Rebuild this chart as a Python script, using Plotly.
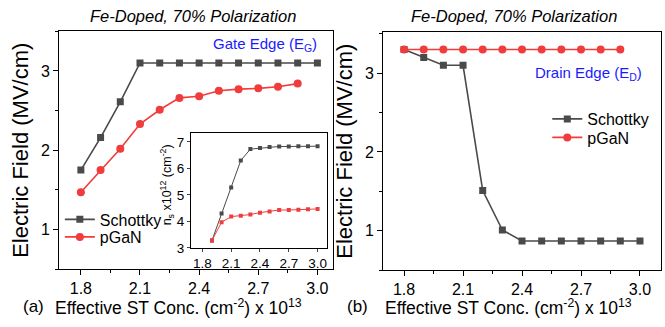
import plotly.graph_objects as go

# ---- data ----
x_a_sch = [1.8, 1.9, 2.0, 2.1, 2.2, 2.3, 2.4, 2.5, 2.6, 2.7, 2.8, 2.9, 3.0]
y_a_sch = [1.75, 2.16, 2.61, 3.10, 3.10, 3.10, 3.10, 3.10, 3.10, 3.10, 3.10, 3.10, 3.10]
x_a_pgan = [1.8, 1.9, 2.0, 2.1, 2.2, 2.3, 2.4, 2.5, 2.6, 2.7, 2.8, 2.9]
y_a_pgan = [1.47, 1.75, 2.02, 2.33, 2.51, 2.66, 2.68, 2.75, 2.77, 2.78, 2.80, 2.84]

x_in = [1.9, 2.0, 2.1, 2.2, 2.3, 2.4, 2.5, 2.6, 2.7, 2.8, 2.9, 3.0]
ns_sch = [3.28, 4.30, 5.28, 6.30, 6.73, 6.77, 6.81, 6.83, 6.83, 6.84, 6.84, 6.84]
ns_pgan = [3.28, 3.97, 4.18, 4.21, 4.26, 4.33, 4.37, 4.43, 4.43, 4.44, 4.46, 4.47]

x_b_sch = [1.8, 1.9, 2.0, 2.1, 2.2, 2.3, 2.4, 2.5, 2.6, 2.7, 2.8, 2.9, 3.0]
y_b_sch = [3.30, 3.20, 3.10, 3.10, 1.51, 1.01, 0.87, 0.87, 0.87, 0.87, 0.87, 0.87, 0.87]
x_b_pgan = [1.8, 1.9, 2.0, 2.1, 2.2, 2.3, 2.4, 2.5, 2.6, 2.7, 2.8, 2.9]
y_b_pgan = [3.30] * 12

main_xticks = [1.8, 2.1, 2.4, 2.7, 3.0]
main_xticktext = ["1.8", "2.1", "2.4", "2.7", "3.0"]
main_yticks = [1, 2, 3]
inset_yticks = [3, 4, 5, 6, 7]

GRAY = "#4a4a4a"
RED = "#f03c3c"
FONT = "Arial, Liberation Sans, sans-serif"

fig = go.Figure()

def add(x, y, color, symbol, size, name, xa, ya, legend, show, width=1.6):
    fig.add_trace(go.Scatter(
        x=x, y=y, mode="lines+markers", name=name,
        line=dict(color=color, width=width),
        marker=dict(symbol=symbol, size=size, color=color),
        xaxis=xa, yaxis=ya, legend=legend, showlegend=show))

add(x_a_sch, y_a_sch, GRAY, "square", 7, "Schottky", "x", "y", "legend", True)
add(x_a_pgan, y_a_pgan, RED, "circle", 8, "pGaN", "x", "y", "legend2", True)
add(x_in, ns_sch, GRAY, "square", 4, "Schottky", "x3", "y3", "legend", False, 1.0)
add(x_in, ns_pgan, RED, "square", 4, "pGaN", "x3", "y3", "legend", False, 1.0)
add(x_b_sch, y_b_sch, GRAY, "square", 7, "Schottky", "x2", "y2", "legend3", True)
add(x_b_pgan, y_b_pgan, RED, "circle", 8, "pGaN", "x2", "y2", "legend4", True)

axcommon = dict(showline=True, linecolor="black", linewidth=1, mirror=True,
                ticks="outside", ticklen=5, tickcolor="black", showgrid=False,
                zeroline=False, tickfont=dict(size=16, color="black", family=FONT))

ytitle = dict(text="Electric Field (MV/cm)", font=dict(size=22, color="black", family=FONT),
              standoff=6)

def leg(xp, yp):
    return dict(x=xp, y=yp, xanchor="left", yanchor="middle", bgcolor="rgba(0,0,0,0)",
                font=dict(size=16, color="black", family=FONT), itemwidth=30,
                tracegroupgap=0)

fig.update_layout(
    width=665, height=327,
    margin=dict(l=0, r=0, t=0, b=0),
    paper_bgcolor="white", plot_bgcolor="white",
    font=dict(family=FONT, color="black"),
    xaxis=dict(domain=[0.089, 0.501], range=[1.69, 3.08], tickvals=main_xticks,
               ticktext=main_xticktext,
               minor=dict(dtick=0.15, tick0=1.8, ticks="outside", ticklen=3),
               anchor="y", **axcommon),
    yaxis=dict(domain=[0.156, 0.902], range=[0.5, 3.5], tickvals=main_yticks,
               minor=dict(dtick=0.5, tick0=0.5, ticks="outside", ticklen=3), title=ytitle,
               anchor="x", **axcommon),
    xaxis2=dict(domain=[0.576, 0.994], range=[1.693, 3.107], tickvals=main_xticks,
                ticktext=main_xticktext,
                minor=dict(dtick=0.15, tick0=1.8, ticks="outside", ticklen=3),
                anchor="y2", **axcommon),
    yaxis2=dict(domain=[0.153, 0.899], range=[0.5, 3.52], tickvals=main_yticks,
                minor=dict(dtick=0.5, tick0=0.5, ticks="outside", ticklen=3), title=ytitle,
                anchor="x2", **axcommon),
    xaxis3=dict(domain=[0.287, 0.492], range=[1.68, 3.1], tickvals=main_xticks,
                ticktext=main_xticktext, anchor="y3",
                showline=True, linecolor="black", linewidth=1, mirror=True,
                ticks="outside", ticklen=3, showgrid=False, zeroline=False,
                tickfont=dict(size=13.5, color="black", family=FONT)),
    yaxis3=dict(domain=[0.223, 0.584], range=[3, 7.35], tickvals=inset_yticks, anchor="x3",
                showline=True, linecolor="black", linewidth=1, mirror=True,
                ticks="outside", ticklen=3, showgrid=False, zeroline=False,
                tickfont=dict(size=13.5, color="black", family=FONT)),
    legend=leg(0.09, 0.312),
    legend2=leg(0.09, 0.257),
    legend3=leg(0.823, 0.627),
    legend4=leg(0.823, 0.569),
)

xt = "Effective ST Conc. (cm<sup>-2</sup>) x 10<sup>13</sup>"
ann = [
    dict(text="<i>Fe-Doped, 70% Polarization</i>", x=0.2895, y=1 - 16 / 327, xref="paper",
         yref="paper", xanchor="center", yanchor="middle", showarrow=False,
         font=dict(size=16.5, color="black")),
    dict(text="<i>Fe-Doped, 70% Polarization</i>", x=0.773, y=1 - 16 / 327, xref="paper",
         yref="paper", xanchor="center", yanchor="middle", showarrow=False,
         font=dict(size=16.5, color="black")),
    dict(text="Gate Edge (E<sub>G</sub>)", x=0.479, y=0.862, xref="paper", yref="paper",
         xanchor="right", yanchor="middle", showarrow=False, font=dict(size=15, color="#1a1aff")),
    dict(text="Drain Edge (E<sub>D</sub>)", x=0.968, y=0.77, xref="paper", yref="paper",
         xanchor="right", yanchor="middle", showarrow=False, font=dict(size=15, color="#1a1aff")),
    dict(text="n<sub>s</sub> x10<sup>12</sup> (cm<sup>-2</sup>)", x=167 / 665, y=1 - 190 / 327,
         xref="paper", yref="paper", xanchor="center", yanchor="middle", textangle=-90,
         showarrow=False, font=dict(size=12.5, color="black")),
    dict(text="(a)", x=33 / 665, y=1 - 314 / 327, xref="paper", yref="paper", xanchor="center",
         yanchor="middle", showarrow=False, font=dict(size=17, color="black")),
    dict(text="(b)", x=357 / 665, y=1 - 314 / 327, xref="paper", yref="paper", xanchor="center",
         yanchor="middle", showarrow=False, font=dict(size=17, color="black")),
    dict(text=xt, x=53 / 665, y=1 - 315 / 327, xref="paper", yref="paper", xanchor="left",
         yanchor="middle", showarrow=False, font=dict(size=17.5, color="black")),
    dict(text=xt, x=383 / 665, y=1 - 315 / 327, xref="paper", yref="paper", xanchor="left",
         yanchor="middle", showarrow=False, font=dict(size=17.5, color="black")),
]
fig.update_layout(annotations=ann)

fig.write_html("out.html")
